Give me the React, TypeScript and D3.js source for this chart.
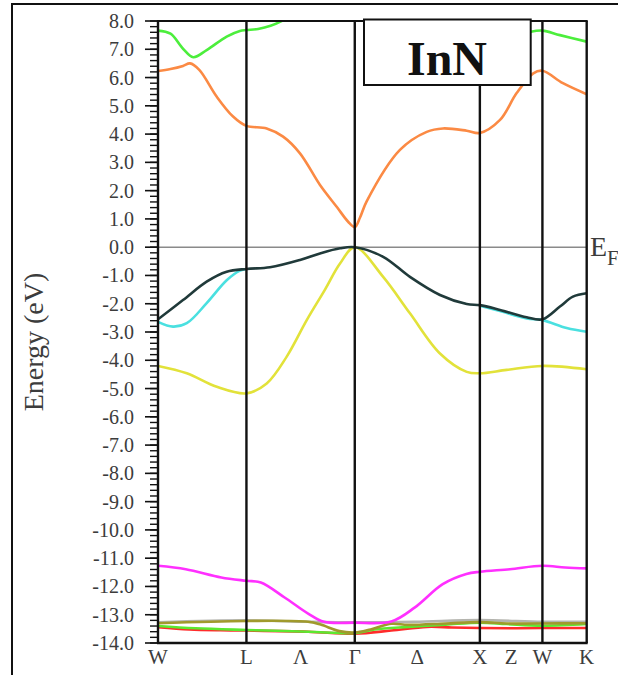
import React from "react";
import * as d3 from "d3";

// high symmetry points along the path (k in units of 2pi/a path length)
const kPoints = [0, 0.707, 1.573, 2.573, 3.073, 3.427];
const kPointLabels = ["W", "L", "Γ", "X", "W", "K"];
// labels placed half way between two points
const midLabels = ["Λ", "Δ", "Z"];
const midLabelAfter = [1, 2, 3];

const energyTicks = d3.range(8, -14.5, -1);

type Pt = [number, number | null];

// conduction bands
const bandGreenUp: Pt[] = [
  [0, 7.66], [0.1, 7.55], [0.2, 7.02], [0.282, 6.72], [0.389, 6.97], [0.549, 7.45],
  [0.655, 7.65], [0.707, 7.68], [0.8, 7.72], [0.9, 7.83], [1.0, 8.02], [1.05, 8.15],
  [1.06, null],
  [2.98, 7.62], [3.073, 7.66], [3.213, 7.5], [3.427, 7.27],
];
const bandOrange: Pt[] = [
  [0, 6.23], [0.1, 6.3], [0.2, 6.41], [0.256, 6.5], [0.33, 6.27], [0.47, 5.32],
  [0.6, 4.62], [0.707, 4.29], [0.869, 4.2], [1.0, 3.91], [1.135, 3.32], [1.295, 2.2],
  [1.43, 1.42], [1.52, 0.9], [1.573, 0.71], [1.615, 1.05], [1.668, 1.62], [1.934, 3.44],
  [2.148, 4.08], [2.278, 4.2], [2.468, 4.12], [2.573, 4.04], [2.734, 4.5], [2.867, 5.45],
  [3.0, 6.15], [3.073, 6.24], [3.237, 5.8], [3.427, 5.41],
];
// valence bands
const bandCyan: Pt[] = [
  [0, -2.64], [0.12, -2.81], [0.23, -2.69], [0.389, -1.98], [0.549, -1.17], [0.655, -0.83],
  [0.707, -0.77], [0.71, null],
  [2.573, -2.07], [2.734, -2.26], [2.947, -2.52], [3.073, -2.58], [3.267, -2.86], [3.427, -2.99],
];
const bandDark: Pt[] = [
  [0, -2.55], [0.2, -1.87], [0.389, -1.22], [0.549, -0.87], [0.707, -0.77], [0.895, -0.71],
  [1.135, -0.45], [1.295, -0.22], [1.455, -0.04], [1.573, 0], [1.8, -0.34], [2.014, -1.05],
  [2.254, -1.69], [2.468, -2.01], [2.573, -2.05], [2.734, -2.22], [2.947, -2.48],
  [3.073, -2.55], [3.213, -2.1], [3.317, -1.75], [3.427, -1.63],
];
const bandYellow: Pt[] = [
  [0, -4.2], [0.23, -4.46], [0.47, -4.94], [0.707, -5.17], [0.869, -4.82], [1.029, -3.87],
  [1.189, -2.58], [1.335, -1.5], [1.455, -0.58], [1.573, 0], [1.8, -1.05],
  [2.014, -2.34], [2.254, -3.76], [2.468, -4.41], [2.573, -4.46], [2.787, -4.34],
  [3.073, -4.2], [3.427, -4.32],
];
// semicore bands
const bandMagenta: Pt[] = [
  [0, -11.27], [0.222, -11.39], [0.506, -11.68], [0.707, -11.8], [0.822, -11.86],
  [1.012, -12.39], [1.2, -12.96], [1.327, -13.25], [1.573, -13.28], [1.865, -13.24],
  [2.054, -12.74], [2.276, -11.92], [2.465, -11.56], [2.573, -11.48], [2.813, -11.39],
  [3.073, -11.27], [3.255, -11.33], [3.427, -11.36],
];
const bandGray: Pt[] = [
  [0, -13.27], [0.707, -13.2], [1.2, -13.25], [1.573, -13.27], [2.05, -13.25],
  [2.573, -13.19], [3.073, -13.25], [3.427, -13.25],
];
const bandRed: Pt[] = [
  [0, -13.44], [0.25, -13.52], [0.5, -13.55], [0.707, -13.56], [1.2, -13.6], [1.573, -13.67],
  [1.865, -13.56], [2.15, -13.43], [2.35, -13.45], [2.573, -13.47], [2.813, -13.48],
  [3.073, -13.47], [3.427, -13.47],
];
const bandGreenLow: Pt[] = [
  [0, -13.4], [0.3, -13.48], [0.707, -13.54], [1.2, -13.6], [1.573, -13.65], [1.73, -13.52],
  [2.0, -13.43], [2.3, -13.35], [2.573, -13.28], [2.787, -13.33], [3.073, -13.39],
  [3.427, -13.33],
];
const bandOlive: Pt[] = [
  [0, -13.3], [0.707, -13.22], [1.2, -13.25], [1.3, -13.35], [1.45, -13.58], [1.573, -13.63],
  [1.7, -13.52], [1.865, -13.32], [2.0, -13.36], [2.3, -13.31], [2.573, -13.26],
  [2.787, -13.31], [3.073, -13.31], [3.427, -13.3],
];

const bands: { pts: Pt[]; color: string }[] = [
  { pts: bandGray, color: "#b4b4ae" },
  { pts: bandRed, color: "#ff2b2b" },
  { pts: bandGreenLow, color: "#5ce830" },
  { pts: bandOlive, color: "#a09a2c" },
  { pts: bandMagenta, color: "#ff30ff" },
  { pts: bandYellow, color: "#e2e23a" },
  { pts: bandCyan, color: "#4ae0e0" },
  { pts: bandDark, color: "#203a3a" },
  { pts: bandOrange, color: "#fb8a44" },
  { pts: bandGreenUp, color: "#4cee3c" },
];

const serif = "'Liberation Serif', 'Times New Roman', serif";

export default function App() {
  const width = 618;
  const height = 675;
  const left = 158, right = 586.7, top = 21, bottom = 643;

  const x = d3.scaleLinear().domain([0, kPoints[kPoints.length - 1]]).range([left, right]);
  const y = d3.scaleLinear().domain([8, -14]).range([top, bottom]);

  const line = d3
    .line<Pt>()
    .defined((d) => d[1] !== null)
    .x((d) => x(d[0]))
    .y((d) => y(d[1] as number))
    .curve(d3.curveCatmullRom.alpha(0.5));

  const fmt = (v: number) => d3.format(".1f")(v).replace("−", "-");
  const minor = d3.range(-14, 8.001, 0.2);

  return (
    <svg width={width} height={height} style={{ position: "absolute", left: 0, top: 0, background: "#fff" }}>
      {/* outer frame */}
      <rect x={12} y={4} width={640} height={700} fill="none" stroke="#111" strokeWidth={2} />

      <defs>
        <clipPath id="plot">
          <rect x={left} y={top} width={right - left} height={bottom - top} />
        </clipPath>
      </defs>

      {/* fermi level */}
      <line x1={left} x2={right} y1={y(0)} y2={y(0)} stroke="#8a8a8a" strokeWidth={1.5} />

      <g clipPath="url(#plot)">
        {bands.map((b, i) => (
          <path key={i} d={line(b.pts) || ""} fill="none" stroke={b.color} strokeWidth={2.6} />
        ))}
      </g>

      {/* symmetry lines */}
      {kPoints.map((k, i) => (
        <line key={i} x1={x(k)} x2={x(k)} y1={top} y2={bottom} stroke="#111" strokeWidth={2.4} />
      ))}
      <line x1={left - 1} x2={right + 1} y1={top} y2={top} stroke="#111" strokeWidth={2} />
      <line x1={left - 1} x2={right + 1} y1={bottom} y2={bottom} stroke="#111" strokeWidth={2.4} />

      {/* y ticks */}
      {minor.map((v, i) => (
        <line key={i} x1={left - 8} x2={left} y1={y(v)} y2={y(v)} stroke="#111" strokeWidth={1.4} />
      ))}
      {energyTicks.map((v) => (
        <g key={v}>
          <line x1={left - 13} x2={left} y1={y(v)} y2={y(v)} stroke="#111" strokeWidth={1.6} />
          <text x={134} y={y(v)} dy="0.35em" textAnchor="end" fontFamily={serif} fontSize={20} fill="#3c3c3c">
            {fmt(v)}
          </text>
        </g>
      ))}

      {/* k labels */}
      {kPoints.map((k, i) => (
        <text key={i} x={x(k)} y={664} textAnchor="middle" fontFamily={serif} fontSize={21} fill="#3c3c3c">
          {kPointLabels[i]}
        </text>
      ))}
      {midLabels.map((l, i) => (
        <text key={l} x={(x(kPoints[midLabelAfter[i]]) + x(kPoints[midLabelAfter[i] + 1])) / 2} y={664}
          textAnchor="middle" fontFamily={serif} fontSize={21} fill="#3c3c3c">
          {l}
        </text>
      ))}

      <text transform="translate(43,342) rotate(-90)" textAnchor="middle" fontFamily={serif} fontSize={28} fill="#3c3c3c">
        Energy (eV)
      </text>

      <text x={590} y={256} fontFamily={serif} fontSize={28} fill="#3c3c3c">
        E<tspan fontSize={21} dy={9}>F</tspan>
      </text>

      {/* title box */}
      <rect x={364} y={19.5} width={166.7} height={65.5} fill="#fff" stroke="#111" strokeWidth={2} />
      <text x={447} y={75} textAnchor="middle" fontFamily={serif} fontWeight="bold" fontSize={48} fill="#111">
        InN
      </text>
    </svg>
  );
}
